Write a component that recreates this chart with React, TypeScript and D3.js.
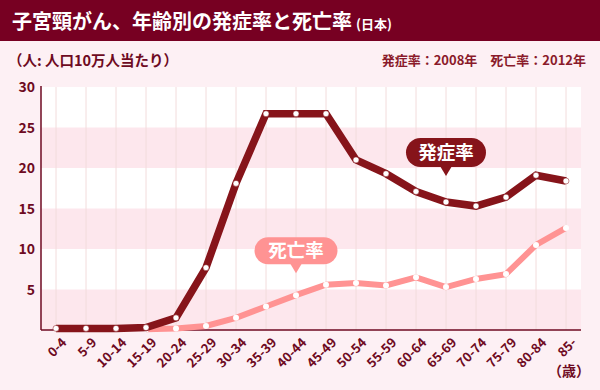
import React from "react";
import * as d3 from "d3";

const categories = ["0-4","5-9","10-14","15-19","20-24","25-29","30-34","35-39","40-44","45-49","50-54","55-59","60-64","65-69","70-74","75-79","80-84","85-"];
const incidence = [0.2,0.2,0.2,0.3,1.5,7.7,18.1,26.7,26.7,26.7,21.0,19.3,17.1,15.8,15.3,16.4,19.1,18.4];
const mortality: (number | null)[] = [null,null,null,0.1,0.2,0.5,1.5,2.9,4.3,5.6,5.8,5.5,6.5,5.3,6.3,6.9,10.5,12.6];
const yTicks = [5,10,15,20,25,30];
const bands = [0,10,20];

const W = 600, H = 390;
const FONT = "'Noto Sans CJK JP', 'Noto Sans', sans-serif";
const M = { left: 41, right: 581, top: 87, bottom: 330 };
const DARK = "#86141a";
const PINK = "#ff9393";
const TEXT = "#6e0a22";

export default function App() {
  const x = d3.scaleBand<string>().domain(categories).range([M.left, M.right]);
  const cx = (c: string) => (x(c) as number) + x.bandwidth() / 2;
  const y = d3.scaleLinear().domain([0, 30]).range([M.bottom, M.top]);

  const line = d3.line<[string, number | null]>()
    .defined(d => d[1] != null)
    .x(d => cx(d[0]))
    .y(d => y(d[1] as number));

  const incPts = categories.map((c, i) => [c, incidence[i]] as [string, number | null]);
  const morPts = categories.map((c, i) => [c, mortality[i]] as [string, number | null]);

  const bubble = (label: string, cat: string, tipVal: number, color: string, w: number, h: number) => {
    const tx = cx(cat);
    const ty = y(tipVal);
    const bottom = ty - 9;
    const top = bottom - h;
    return (
      <g>
        <rect x={tx - w / 2} y={top} width={w} height={h} rx={h / 2} fill={color} />
        <path d={`M${tx - 6},${bottom - 1} L${tx},${ty} L${tx + 6},${bottom - 1} Z`} fill={color} />
        <text x={tx} y={top + h / 2 + 6.5} textAnchor="middle" fill="#fff" fontSize={18.5} fontWeight="bold" fontFamily={FONT}>{label}</text>
      </g>
    );
  };

  return (
    <svg width={W} height={H} style={{ position: "absolute", left: 0, top: 0 }} xmlns="http://www.w3.org/2000/svg">
      <rect x={0} y={0} width={W} height={H} fill="#fdf0f4" />
      <rect x={0} y={0} width={W} height={41} fill="#770022" />
      <text x={12} y={29} fill="#fff" fontSize={20} fontWeight="bold" fontFamily={FONT}>
        子宮頸がん、年齢別の発症率と死亡率<tspan fontSize={13} dx={4}>(日本)</tspan>
      </text>
      <text x={8} y={66} fill={TEXT} fontSize={14.5} fontWeight="bold" fontFamily={FONT}>（人: 人口10万人当たり）</text>
      <text x={586} y={65} textAnchor="end" fill="#8a1a2a" fontSize={13} fontWeight="bold" fontFamily={FONT}>発症率：2008年　死亡率：2012年</text>

      {/* plot background */}
      <rect x={M.left} y={M.top} width={M.right - M.left} height={M.bottom - M.top} fill="#ffffff" />
      {bands.map(b => (
        <rect key={b} x={M.left} y={y(b + 5)} width={M.right - M.left} height={y(b) - y(b + 5)} fill="#fde7ed" />
      ))}
      {categories.map(c => (
        <line key={c} x1={cx(c)} x2={cx(c)} y1={M.top} y2={M.bottom} stroke="#f2dcdc" strokeWidth={1} />
      ))}

      {/* axes */}
      <line x1={M.left} x2={M.left} y1={M.top - 1} y2={M.bottom} stroke={TEXT} strokeWidth={1.5} />
      <line x1={M.left} x2={M.right} y1={M.bottom} y2={M.bottom} stroke={TEXT} strokeWidth={1.5} />
      {yTicks.map(t => (
        <text key={t} x={35} y={y(t) + 5} textAnchor="end" fill={TEXT} fontSize={14} fontWeight="bold" fontFamily={FONT}>{t}</text>
      ))}
      {categories.map(c => (
        <text key={c} transform={`translate(${cx(c) + 5},${337}) rotate(-45)`} textAnchor="end" dy="0.7em"
          fill={TEXT} fontSize={13} fontWeight="bold" fontFamily={FONT}>{c}</text>
      ))}
      <text x={590} y={376} textAnchor="end" fill={TEXT} fontSize={14} fontWeight="bold" fontFamily={FONT}>（歳）</text>

      {/* mortality */}
      <path d={line(morPts) as string} fill="none" stroke={PINK} strokeWidth={6} strokeLinejoin="miter" />
      {morPts.filter(d => d[1] != null).map(d => (
        <circle key={d[0]} cx={cx(d[0])} cy={y(d[1] as number)} r={3} fill="#fff" />
      ))}

      {/* incidence */}
      <path d={line(incPts) as string} fill="none" stroke={DARK} strokeWidth={7.5} strokeLinejoin="miter" />
      {incPts.map(d => (
        <circle key={d[0]} cx={cx(d[0])} cy={y(d[1] as number)} r={3} fill="#fff" stroke={DARK} strokeWidth={0.5} />
      ))}

      {bubble("発症率", "65-69", 19, DARK, 80, 29)}
      {bubble("死亡率", "40-44", 7, PINK, 83, 27)}
    </svg>
  );
}
